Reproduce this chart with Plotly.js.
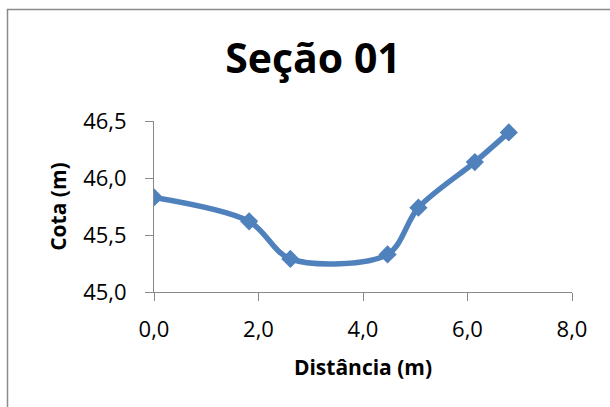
<!DOCTYPE html>
<html>
<head>
<meta charset="utf-8">
<script src="https://cdn.plot.ly/plotly-3.0.1.min.js"></script>
<style>
  html, body { margin: 0; padding: 0; background: #fff; }
  #chart { width: 610px; height: 407px; }
</style>
</head>
<body>
<div id="chart"></div>
<script>
// Cross-section survey: distance along the section vs. ground elevation
const distancia = [0.00, 1.82, 2.61, 4.47, 5.06, 6.14, 6.79];
const cota = [45.83, 45.62, 45.29, 45.33, 45.74, 46.14, 46.40];

const xTicks = [0, 2, 4, 6, 8];
const yTicks = [45.0, 45.5, 46.0, 46.5];

const W = 610, H = 407;
const M = { l: 154, r: 38, t: 121, b: 115 };
const pw = W - M.l - M.r, ph = H - M.t - M.b;
// pixel -> paper helpers for the outer frame
const px = v => (v - M.l) / pw;
const py = v => (H - M.b - v) / ph;

const FONT = '"Open Sans", Lato, "DejaVu Sans", sans-serif';
const BLUE = '#4F81BD';
const AXIS = '#898989';

const trace = {
  x: distancia,
  y: cota,
  type: 'scatter',
  mode: 'lines+markers',
  line: { color: BLUE, width: 5.5, shape: 'spline', smoothing: 0.9 },
  marker: { symbol: 'diamond', size: 14, color: BLUE },
  hoverinfo: 'x+y'
};

const layout = {
  width: W,
  height: H,
  margin: M,
  paper_bgcolor: '#fff',
  plot_bgcolor: '#fff',
  separators: ',.',
  showlegend: false,
  font: { family: FONT, color: '#000', size: 22 },
  title: {
    text: 'Seção 01',
    font: { family: FONT, size: 41, color: '#000', weight: 'bold' },
    x: 313 / W,
    xref: 'container',
    xanchor: 'center',
    y: 1 - 59 / H,
    yref: 'container',
    yanchor: 'middle'
  },
  xaxis: {
    range: [0, 8],
    tickvals: xTicks,
    tickformat: '.1f',
    ticks: 'outside',
    ticklen: 8,
    tickwidth: 1,
    tickcolor: AXIS,
    showline: true,
    linecolor: AXIS,
    linewidth: 1,
    showgrid: false,
    zeroline: false,
    fixedrange: true,
    ticklabelstandoff: 10,
    tickfont: { family: FONT, size: 22, color: '#000' },
    title: {
      text: 'Distância (m)',
      font: { family: FONT, size: 21, color: '#000', weight: 'bold' },
      standoff: 17
    }
  },
  yaxis: {
    range: [45, 46.5],
    tickvals: yTicks,
    tickformat: '.1f',
    ticks: 'outside',
    ticklen: 8,
    tickwidth: 1,
    tickcolor: AXIS,
    showline: true,
    linecolor: AXIS,
    linewidth: 1,
    showgrid: false,
    zeroline: false,
    fixedrange: true,
    ticklabelstandoff: 14,
    tickfont: { family: FONT, size: 22, color: '#000' },
    title: {
      text: 'Cota (m)',
      font: { family: FONT, size: 21, color: '#000', weight: 'bold' },
      standoff: 10
    }
  },
  shapes: [{
    type: 'rect',
    xref: 'paper', yref: 'paper',
    x0: px(7.5), x1: px(620),
    y0: py(420), y1: py(9.5),
    line: { color: '#8a8a8a', width: 1.5 },
    fillcolor: 'rgba(0,0,0,0)',
    layer: 'below'
  }]
};

Plotly.newPlot('chart', [trace], layout, { staticPlot: true, displayModeBar: false });
</script>
</body>
</html>
